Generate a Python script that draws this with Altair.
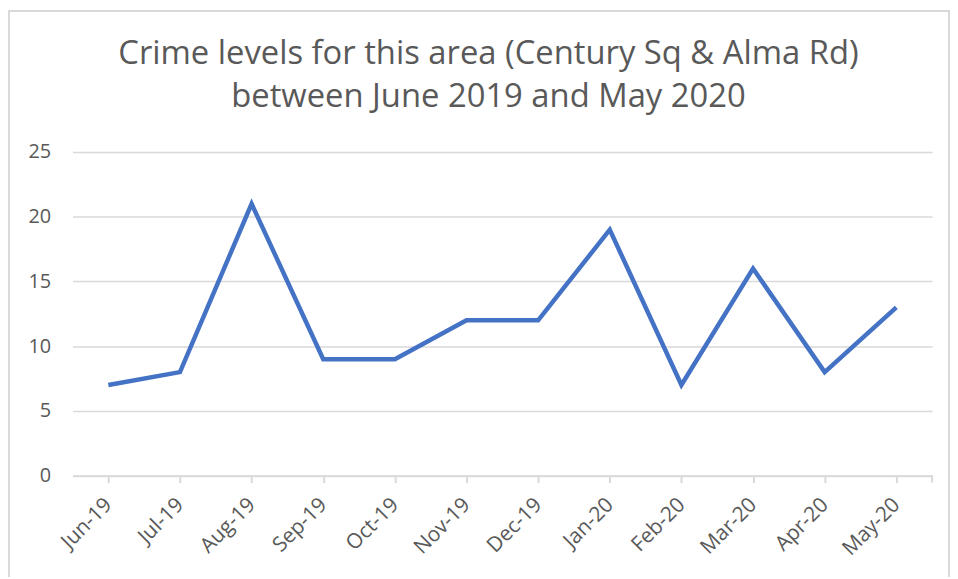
import altair as alt
import pandas as pd

months = ["Jun-19", "Jul-19", "Aug-19", "Sep-19", "Oct-19", "Nov-19",
          "Dec-19", "Jan-20", "Feb-20", "Mar-20", "Apr-20", "May-20"]
crimes = [7, 8, 21, 9, 9, 12, 12, 19, 7, 16, 8, 13]
y_ticks = [0, 5, 10, 15, 20, 25]
title_lines = ["Crime levels for this area (Century Sq & Alma Rd)",
               "between June 2019 and May 2020"]

W, H = 866, 326
TEXT = "#595959"
GRID = "#d9d9d9"
FONT = "Open Sans"

df = pd.DataFrame({"month": months, "crimes": crimes})

line = alt.Chart(df).mark_line(color="#4472C4", strokeWidth=4.5, strokeJoin="miter").encode(
    x=alt.X("month:N", sort=months, title=None,
            scale=alt.Scale(paddingInner=0, paddingOuter=0),
            axis=alt.Axis(labelAngle=-45, labelAlign="right", labelBaseline="middle",
                          labelFontSize=21, labelFont=FONT, labelColor=TEXT,
                          labelPadding=19, tickSize=7, tickColor=GRID, tickWidth=2,
                          bandPosition=0, domainColor=GRID, domainWidth=2,
                          grid=False, labelOverlap=False)),
    y=alt.Y("crimes:Q", title=None,
            scale=alt.Scale(domain=[0, 25], nice=False),
            axis=alt.Axis(values=y_ticks, labelFontSize=20, labelFont=FONT,
                          labelColor=TEXT, labelPadding=22, ticks=False,
                          domain=False, gridColor=GRID, gridWidth=1.5)),
)

frame_df = pd.DataFrame({"k": [0]})
frame = alt.Chart(frame_df).mark_rect(fill=None, stroke=GRID, strokeWidth=2).encode(
    x=alt.value(-64), x2=alt.value(W + 17),
    y=alt.value(-142), y2=alt.value(H + 200),
)
end_tick = alt.Chart(frame_df).mark_rule(color=GRID, strokeWidth=2).encode(
    x=alt.value(W), y=alt.value(H), y2=alt.value(H + 7),
)

chart = alt.layer(frame, line, end_tick).properties(
    width=W, height=H,
    padding={"left": 65, "top": 143, "right": 18, "bottom": 100},
    autosize=alt.AutoSizeParams(type="none"),
    title=alt.TitleParams(text=title_lines, fontSize=33, font=FONT, fontWeight="normal",
                          color=TEXT, anchor="middle", frame="group", lineHeight=44,
                          offset=0, dy=105, dx=-14),
).configure_view(stroke=None)

chart.save("out.html", embed_options={"renderer": "svg", "actions": False})
